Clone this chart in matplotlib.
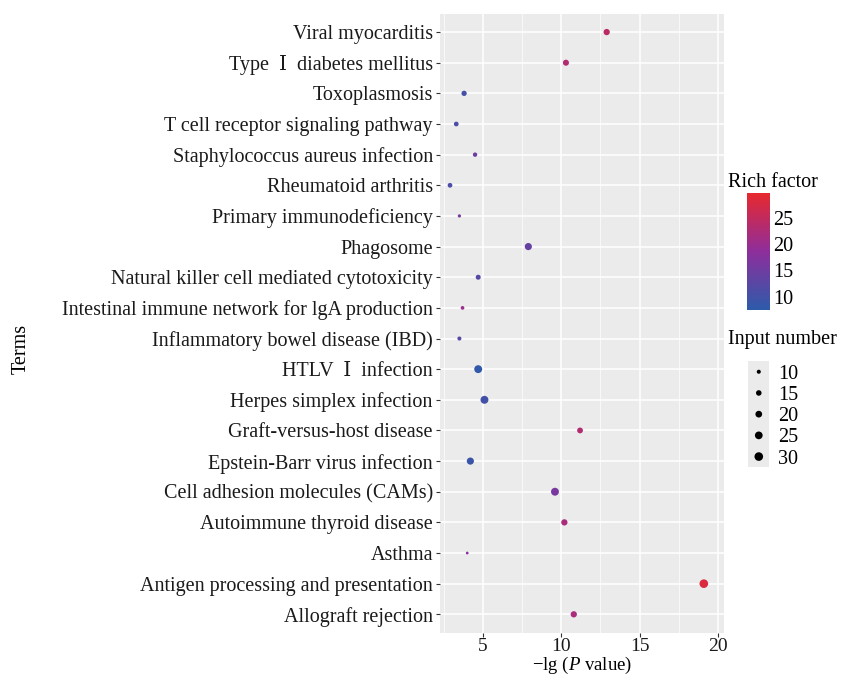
import numpy as np
import matplotlib
matplotlib.use("Agg")
import matplotlib.pyplot as plt
from matplotlib.colors import LinearSegmentedColormap, Normalize

plt.rcParams['font.family'] = ['Liberation Serif', 'DejaVu Serif', 'Noto Sans CJK SC']
plt.rcParams['mathtext.fontset'] = 'custom'
plt.rcParams['mathtext.it'] = 'Liberation Serif:italic'
plt.rcParams['mathtext.rm'] = 'Liberation Serif'

# terms from top to bottom
terms = [
    "Viral myocarditis",
    "Type  \u2160  diabetes mellitus",
    "Toxoplasmosis",
    "T cell receptor signaling pathway",
    "Staphylococcus aureus infection",
    "Rheumatoid arthritis",
    "Primary immunodeficiency",
    "Phagosome",
    "Natural killer cell mediated cytotoxicity",
    "Intestinal immune network for lgA production",
    "Inflammatory bowel disease (IBD)",
    "HTLV  \u2160  infection",
    "Herpes simplex infection",
    "Graft-versus-host disease",
    "Epstein-Barr virus infection",
    "Cell adhesion molecules (CAMs)",
    "Autoimmune thyroid disease",
    "Asthma",
    "Antigen processing and presentation",
    "Allograft rejection",
]
neg_log_p = [12.9, 10.3, 3.8, 3.3, 4.5, 2.9, 3.5, 7.9, 4.7, 3.7,
             3.5, 4.7, 5.1, 11.2, 4.2, 9.6, 10.2, 4.0, 19.1, 10.8]
rich_factor = [24, 23, 10, 11, 15, 11, 16, 14, 12, 20,
               12, 8, 10, 23, 9, 16, 22, 18, 28, 22]
input_number = [18, 17, 14, 12, 11, 12, 8, 22, 13, 9,
                10, 26, 26, 16, 22, 26, 18, 7, 30, 18]

size_breaks = [10, 15, 20, 25, 30]
color_ticks = [10, 15, 20, 25]


def msize(n):
    return 4 + (np.asarray(n, dtype=float) - 7) * 1.5


cmap = LinearSegmentedColormap.from_list("rf", ["#2D5BAA", "#8E2E9C", "#E8282E"])
norm = Normalize(vmin=7.5, vmax=29.7)

fig = plt.figure(figsize=(8.54, 6.84), dpi=100)
ax = fig.add_axes([0.515, 0.075, 0.333, 0.905])

ypos = np.arange(len(terms))[::-1]
ax.scatter(neg_log_p, ypos, s=msize(input_number), c=rich_factor,
           cmap=cmap, norm=norm, zorder=3, linewidths=0)

ax.set_facecolor("#EBEBEB")
ax.set_xlim(2.25, 20.4)
ax.set_ylim(-0.6, len(terms) - 0.4)
ax.set_xticks([5, 10, 15, 20])
ax.set_xticks([2.5, 7.5, 12.5, 17.5], minor=True)
ax.set_yticks(ypos)
ax.set_yticklabels(terms)
ax.grid(which='major', color='white', linewidth=1.1, zorder=0)
ax.grid(which='minor', axis='x', color='white', linewidth=0.5, zorder=0)
ax.set_axisbelow(True)
for sp in ax.spines.values():
    sp.set_visible(False)
ax.tick_params(which='major', length=3, color='#333333', labelsize=14.5,
               labelcolor='#1a1a1a', pad=2)
ax.tick_params(axis='x', pad=1, labelsize=14)
ax.tick_params(which='minor', length=0)
ax.set_xlabel(r"$-$lg ($\mathit{P}$ value)", fontsize=13.5, labelpad=0)
fig.text(0.025, 0.49, "Terms", rotation=90, fontsize=14.5, va='center', ha='center')

# colour legend
fig.text(0.852, 0.733, "Rich factor", fontsize=14.5, va='center')
cax = fig.add_axes([0.875, 0.547, 0.027, 0.171])
sm = plt.cm.ScalarMappable(cmap=cmap, norm=norm)
cb = fig.colorbar(sm, cax=cax, ticks=color_ticks)
cb.outline.set_visible(False)
cb.ax.tick_params(length=0, labelsize=14.5, pad=2)

# size legend
fig.text(0.852, 0.503, "Input number", fontsize=14.5, va='center')
lax = fig.add_axes([0.876, 0.317, 0.025, 0.155])
lax.set_facecolor("#EBEBEB")
ly = np.arange(len(size_breaks))[::-1]
lax.scatter([0] * len(size_breaks), ly, s=msize(size_breaks), color='black', linewidths=0)
lax.set_xlim(-1, 1)
lax.set_ylim(-0.5, len(size_breaks) - 0.5)
lax.set_xticks([])
lax.set_yticks(ly)
lax.set_yticklabels(size_breaks)
lax.yaxis.tick_right()
lax.tick_params(length=0, labelsize=14.5, pad=6)
for sp in lax.spines.values():
    sp.set_visible(False)

fig.savefig("out.png", dpi=100)
